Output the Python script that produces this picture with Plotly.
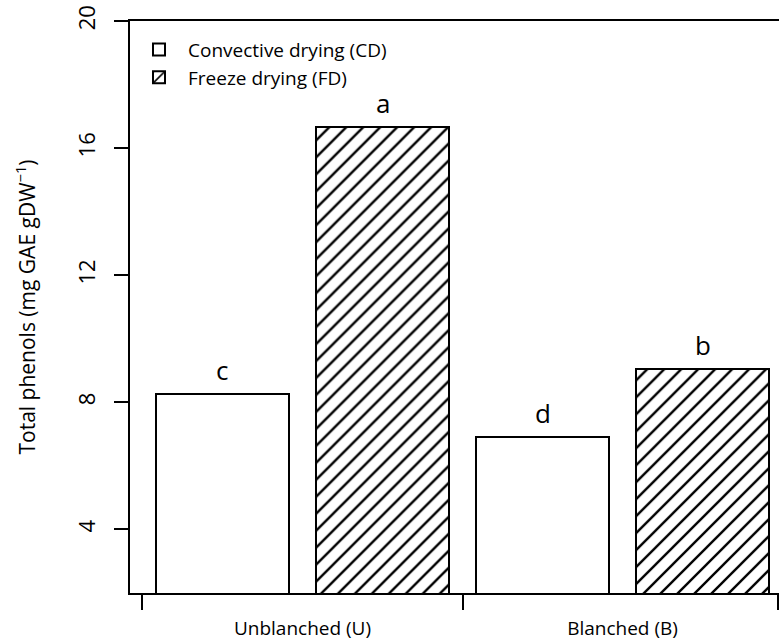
import plotly.graph_objects as go

groups = ["Unblanched (U)", "Blanched (B)"]
series_names = ["Convective drying (CD)", "Freeze drying (FD)"]
cd_values = [8.26, 6.91]
fd_values = [16.68, 9.06]
cd_letters = ["c", "d"]
fd_letters = ["a", "b"]
y_ticks = [4, 8, 12, 16, 20]

# bar slot positions (group-wise, side by side)
cd_pos = [1, 3]
fd_pos = [2, 4]
group_pos = [1.5, 3.5]
group_bounds = [0.5, 2.5, 4.47]

FONT = "Open Sans"
BW = 0.83

fig = go.Figure()
fig.add_trace(go.Bar(
    x=cd_pos, y=cd_values, width=BW, name=series_names[0],
    marker=dict(color="white", line=dict(color="black", width=2)),
    base=0,
))
fig.add_trace(go.Bar(
    x=fd_pos, y=fd_values, width=BW, name=series_names[1],
    marker=dict(color="white", line=dict(color="black", width=2),
                pattern=dict(shape="/", fgcolor="black", bgcolor="white",
                             size=12, solidity=0.2, fgopacity=1)),
    base=0,
))

for xs, vals, labs in [(cd_pos, cd_values, cd_letters), (fd_pos, fd_values, fd_letters)]:
    for x, v, t in zip(xs, vals, labs):
        fig.add_annotation(x=x, y=v + 0.75, text=t, showarrow=False,
                           font=dict(family=FONT, size=26, color="black"),
                           xref="x", yref="y")

fig.update_layout(
    width=779, height=643,
    margin=dict(l=130, r=0, t=21, b=50, autoexpand=False),
    plot_bgcolor="white", paper_bgcolor="white",
    font=dict(family=FONT, size=21, color="black"),
    showlegend=True,
    legend=dict(x=0.0, y=0.983, xanchor="left", yanchor="top",
                xref="paper", yref="paper",
                bgcolor="rgba(0,0,0,0)", itemwidth=48,
                font=dict(family=FONT, size=19, color="black"),
                tracegroupgap=0),
    bargap=0,
    xaxis=dict(range=[0.422, 4.478], showgrid=False, zeroline=False,
               showline=True, linecolor="black", linewidth=2, mirror=True,
               automargin=False,
               tickmode="array", tickvals=group_pos, ticktext=groups,
               ticks="", ticklabelstandoff=17,
               minor=dict(tickmode="array", tickvals=group_bounds, ticks="outside",
                          ticklen=15, tickwidth=2, tickcolor="black", showgrid=False),
               tickfont=dict(family=FONT, size=19, color="black")),
    yaxis=dict(range=[2, 20], showgrid=False, zeroline=False,
               showline=True, linecolor="black", linewidth=2,
               automargin=False,
               tickmode="array", tickvals=y_ticks,
               ticks="outside", ticklen=14, tickwidth=2, tickcolor="black",
               tickangle=-90, ticklabelstandoff=10,
               tickfont=dict(family=FONT, size=22, color="black"),
               title=dict(text="Total phenols (mg GAE gDW<sup>\u22121</sup>)",
                          font=dict(family=FONT, size=21, color="black"),
                          standoff=30)),
)

fig.write_html("out.html", config={"displayModeBar": False},
               post_script="document.body.style.margin='0px';")
